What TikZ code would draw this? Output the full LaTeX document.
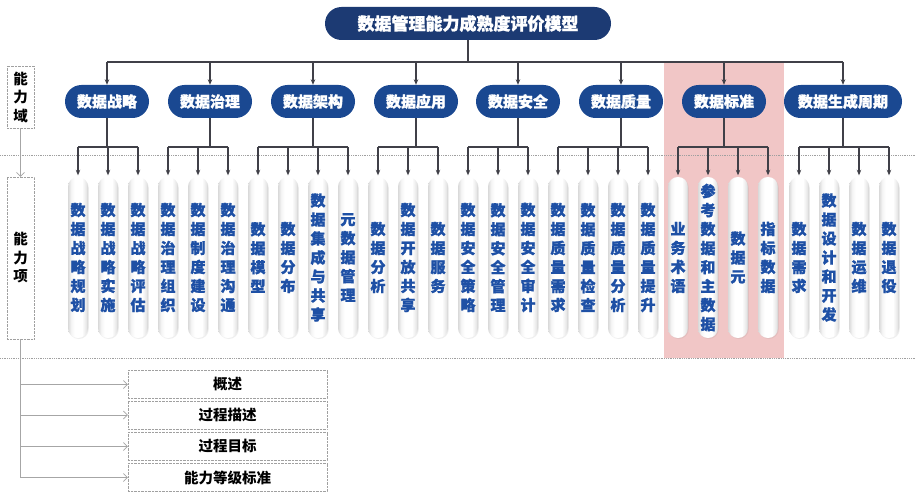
\documentclass[tikz,border=0pt]{standalone}
\usepackage{fontspec}
\setmainfont{Noto Sans CJK SC}
\newfontfamily\heavy{Noto Sans CJK SC}[BoldFeatures={FakeBold=1.3}]
\usetikzlibrary{arrows.meta,shadows,backgrounds}
\definecolor{titlebg}{RGB}{28,58,115}
\definecolor{dombg}{RGB}{26,72,145}
\definecolor{itemtxt}{RGB}{30,80,165}
\definecolor{hilite}{RGB}{241,198,198}
\definecolor{conn}{RGB}{64,64,72}
\definecolor{dotgray}{RGB}{160,160,160}
\pgfdeclarehorizontalshading{pillshade}{100bp}{color(0bp)=(gray!30); color(25bp)=(gray!30); color(33bp)=(gray!8); color(42bp)=(white); color(60bp)=(white); color(70bp)=(gray!18); color(75bp)=(gray!38); color(100bp)=(gray!38)}
\tikzset{
  titlebox/.style={fill=titlebg, text=white, minimum width=286pt, minimum height=33pt, rounded corners=16.5pt, inner sep=0pt, font=\heavy\bfseries\fontsize{17}{20}\selectfont},
  dombox/.style={fill=dombg, text=white, minimum width=84pt, minimum height=33pt, rounded corners=16.5pt, inner sep=0pt, font=\heavy\bfseries\fontsize{15}{18}\selectfont},
  itembox/.style={shading=pillshade, minimum width=20pt, minimum height=161pt, rounded corners=9.9pt, inner sep=0pt, align=center, text=itemtxt, font=\heavy\bfseries\fontsize{15}{19}\selectfont, drop shadow={opacity=0.12, shadow xshift=0.8pt, shadow yshift=-1pt}},
  lblbox/.style={draw=dotgray, densely dotted, minimum width=27pt, inner sep=0pt, align=center, font=\bfseries\fontsize{14.5}{18.5}\selectfont},
  infobox/.style={draw=dotgray, densely dotted, minimum width=199pt, minimum height=28pt, inner sep=0pt, font=\bfseries\fontsize{14.5}{17}\selectfont},
  conline/.style={draw=conn, line width=1.1pt},
  conarrow/.style={draw=conn, line width=1.1pt, -{Stealth[length=5.5pt,width=4.5pt]}},
  grayarrow/.style={draw=gray!70, line width=0.7pt, -{Straight Barb[length=4pt,width=8pt]}},
  grayline/.style={draw=gray!70, line width=0.7pt},
  sepline/.style={draw=dotgray, densely dotted, line width=0.8pt}
}
\begin{document}
\begin{tikzpicture}[x=1pt,y=-1pt]
\useasboundingbox (0,0) rectangle (915,500);
\fill[white] (0,0) rectangle (915,500);
% highlight
\fill[hilite] (664,62) rectangle (784,358);
% separators
\coordinate (s1l) at (0,155); \coordinate (s1r) at (915,155);
\coordinate (s2l) at (0,358); \coordinate (s2r) at (915,358);
\draw[sepline] (s1l) -- (s1r);
\draw[sepline] (s2l) -- (s2r);

% title
\node[titlebox] (T) at (468,23.5) {数据管理能力成熟度评价模型};

% domains
\node[dombox] (d1) at (107,101.5) {数据战略};
\node[dombox] (d2) at (210,101.5) {数据治理};
\node[dombox] (d3) at (313,101.5) {数据架构};
\node[dombox] (d4) at (416,101.5) {数据应用};
\node[dombox] (d5) at (518,101.5) {数据安全};
\node[dombox] (d6) at (621,101.5) {数据质量};
\node[dombox] (d7) at (724,101.5) {数据标准};
\node[dombox, minimum width=118pt] (d8) at (843,101.5) {数据生成周期};

% items
\node[itembox] (i1) at (78,257.5) {数\\据\\战\\略\\规\\划};
\node[itembox] (i2) at (108,257.5) {数\\据\\战\\略\\实\\施};
\node[itembox] (i3) at (138,257.5) {数\\据\\战\\略\\评\\估};
\node[itembox] (i4) at (168,257.5) {数\\据\\治\\理\\组\\织};
\node[itembox] (i5) at (198,257.5) {数\\据\\制\\度\\建\\设};
\node[itembox] (i6) at (228,257.5) {数\\据\\治\\理\\沟\\通};
\node[itembox] (i7) at (258,257.5) {数\\据\\模\\型};
\node[itembox] (i8) at (288,257.5) {数\\据\\分\\布};
\node[itembox] (i9) at (318,257.5) {数\\据\\集\\成\\与\\共\\享};
\node[itembox] (i10) at (348,257.5) {元\\数\\据\\管\\理};
\node[itembox] (i11) at (378,257.5) {数\\据\\分\\析};
\node[itembox] (i12) at (408,257.5) {数\\据\\开\\放\\共\\享};
\node[itembox] (i13) at (438,257.5) {数\\据\\服\\务};
\node[itembox] (i14) at (468,257.5) {数\\据\\安\\全\\策\\略};
\node[itembox] (i15) at (498,257.5) {数\\据\\安\\全\\管\\理};
\node[itembox] (i16) at (528,257.5) {数\\据\\安\\全\\审\\计};
\node[itembox] (i17) at (558,257.5) {数\\据\\质\\量\\需\\求};
\node[itembox] (i18) at (588,257.5) {数\\据\\质\\量\\检\\查};
\node[itembox] (i19) at (618,257.5) {数\\据\\质\\量\\分\\析};
\node[itembox] (i20) at (648,257.5) {数\\据\\质\\量\\提\\升};
\node[itembox] (i21) at (678,257.5) {业\\务\\术\\语};
\node[itembox] (i22) at (708,257.5) {参\\考\\数\\据\\和\\主\\数\\据};
\node[itembox] (i23) at (738,257.5) {数\\据\\元};
\node[itembox] (i24) at (768,257.5) {指\\标\\数\\据};
\node[itembox] (i25) at (799,257.5) {数\\据\\需\\求};
\node[itembox] (i26) at (829,257.5) {数\\据\\设\\计\\和\\开\\发};
\node[itembox] (i27) at (859,257.5) {数\\据\\运\\维};
\node[itembox] (i28) at (889,257.5) {数\\据\\退\\役};

% title -> domains
\coordinate (bus) at (0,62);
\draw[conline] (T.south) -- (T.south |- bus);
\draw[conline] (d1.north |- bus) -- (d8.north |- bus);
\foreach \d in {d1,d2,d3,d4,d5,d6,d7,d8}
  \draw[conarrow] (\d.north |- bus) -- (\d.north);

% domains -> items
\coordinate (ibus) at (0,147);
\foreach \d/\a/\b/\list in {d1/i1/i3/{i1,i2,i3}, d2/i4/i6/{i4,i5,i6}, d3/i7/i10/{i7,i8,i9,i10}, d4/i11/i13/{i11,i12,i13}, d5/i14/i16/{i14,i15,i16}, d6/i17/i20/{i17,i18,i19,i20}, d7/i21/i24/{i21,i22,i23,i24}, d8/i25/i28/{i25,i26,i27,i28}}{
  \draw[conline] (\d.south) -- (\d.south |- ibus);
  \draw[conline] (\a.north |- ibus) -- (\b.north |- ibus);
  \foreach \i in \list
    \draw[conarrow] (\i.north |- ibus) -- ([yshift=1.5pt]\i.north);
}

% left labels
\node[lblbox, minimum height=62pt] (L1) at (20.5,97) {能\\力\\域};
\node[lblbox, minimum height=162pt] (L2) at (20.5,258) {能\\力\\项};
\draw[grayarrow] (L1.south) -- (L2.north);

% bottom boxes
\node[infobox] (b1) at (227.5,384.5) {概述};
\node[infobox] (b2) at (227.5,415) {过程描述};
\node[infobox] (b3) at (227.5,446.5) {过程目标};
\node[infobox] (b4) at (227.5,477.5) {能力等级标准};
\draw[grayline] (L2.south) -- (L2.south |- b4.west);
\foreach \b in {b1,b2,b3,b4}
  \draw[grayarrow] (L2.south |- \b.west) -- (\b.west);
\end{tikzpicture}
\end{document}
